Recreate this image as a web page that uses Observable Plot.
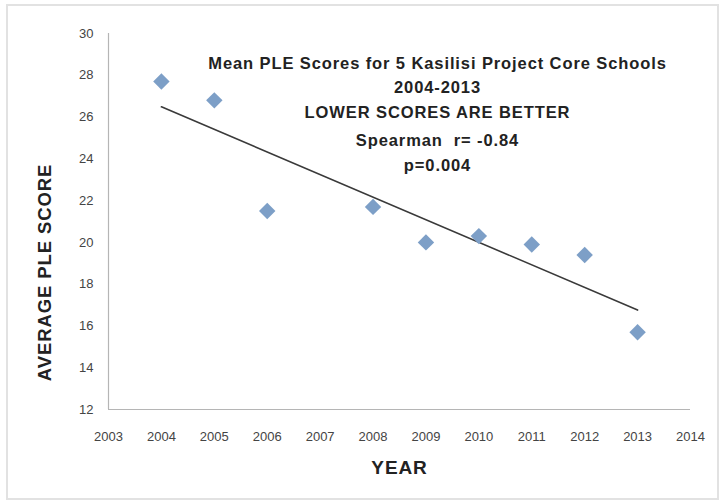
<!DOCTYPE html>
<html>
<head>
<meta charset="utf-8">
<script src="https://cdn.jsdelivr.net/npm/d3@7"></script>
<script src="https://cdn.jsdelivr.net/npm/@observablehq/plot@0.6"></script>
<style>
  html, body { margin: 0; padding: 0; background: #fff; }
  #wrap { position: relative; width: 725px; height: 504px; overflow: hidden; }
  #border { position: absolute; left: 6px; top: 4px; width: 713px; height: 496px; border: 2px solid #e2e2e2; box-sizing: border-box; }
  #chart { position: absolute; left: 0; top: 0; }
  #chart g[aria-label="text"] text { letter-spacing: 0.9px; }
</style>
</head>
<body>
<div id="wrap"><div id="border"></div><div id="chart"></div></div>
<script>
const years = [2004, 2005, 2006, 2008, 2009, 2010, 2011, 2012, 2013];
const scores = [27.7, 26.8, 21.5, 21.7, 20.0, 20.3, 19.9, 19.4, 15.7];
const xTicks = [2003, 2004, 2005, 2006, 2007, 2008, 2009, 2010, 2011, 2012, 2013, 2014];
const yTicks = [12, 14, 16, 18, 20, 22, 24, 26, 28, 30];
const titleLines = [
  "Mean PLE Scores for 5 Kasilisi Project Core Schools",
  "2004-2013",
  "LOWER SCORES ARE BETTER",
  "Spearman  r= -0.84",
  "p=0.004"
];
const titleOffsets = [30, 54, 79, 107, 132];
const xLabel = "YEAR";
const yLabel = "AVERAGE PLE SCORE";

const data = years.map((y, i) => ({year: y, score: scores[i]}));
const font = "'Liberation Sans', Arial, sans-serif";

const plot = Plot.plot({
  width: 725,
  height: 504,
  marginLeft: 108,
  marginRight: 35,
  marginTop: 33,
  marginBottom: 95,
  style: {fontFamily: font, background: "transparent", color: "#333"},
  x: {domain: [2003, 2014], ticks: xTicks, tickFormat: d => String(d), tickSize: 0, tickPadding: 22, label: null},
  y: {domain: [12, 30], ticks: yTicks, tickSize: 0, tickPadding: 14, label: null},
  marks: [
    Plot.axisX({ticks: xTicks, tickFormat: d => String(d), tickSize: 0, tickPadding: 22, fontSize: 13, fill: "#444", label: null}),
    Plot.axisY({ticks: yTicks, tickSize: 0, tickPadding: 15, fontSize: 13, fill: "#444", label: null}),
    Plot.ruleX([2003], {stroke: "#b5b5b5", strokeWidth: 1.2}),
    Plot.ruleY([12], {stroke: "#b5b5b5", strokeWidth: 1.2}),
    Plot.linearRegressionY(data, {x: "year", y: "score", ci: 0, stroke: "#3a3a3a", strokeWidth: 1.6}),
    Plot.dot(data, {x: "year", y: "score", symbol: "diamond2", r: 7.4, fill: "#7d9fc7", stroke: "none"}),
    ...titleLines.map((t, i) => Plot.text([t], {
      frameAnchor: "top", dx: 38, dy: titleOffsets[i], lineAnchor: "middle",
      fontSize: 16.5, fontWeight: "bold", fill: "#222"
    })),
    Plot.text([xLabel], {frameAnchor: "bottom", dy: 58, lineAnchor: "middle", fontSize: 19, fontWeight: "bold", fill: "#222"}),
    Plot.text([yLabel], {frameAnchor: "left", dx: -63, dy: 51, rotate: -90, textAnchor: "middle", lineAnchor: "middle", fontSize: 18.5, fontWeight: "bold", fill: "#222"})
  ]
});
document.getElementById("chart").appendChild(plot);
</script>
</body>
</html>
